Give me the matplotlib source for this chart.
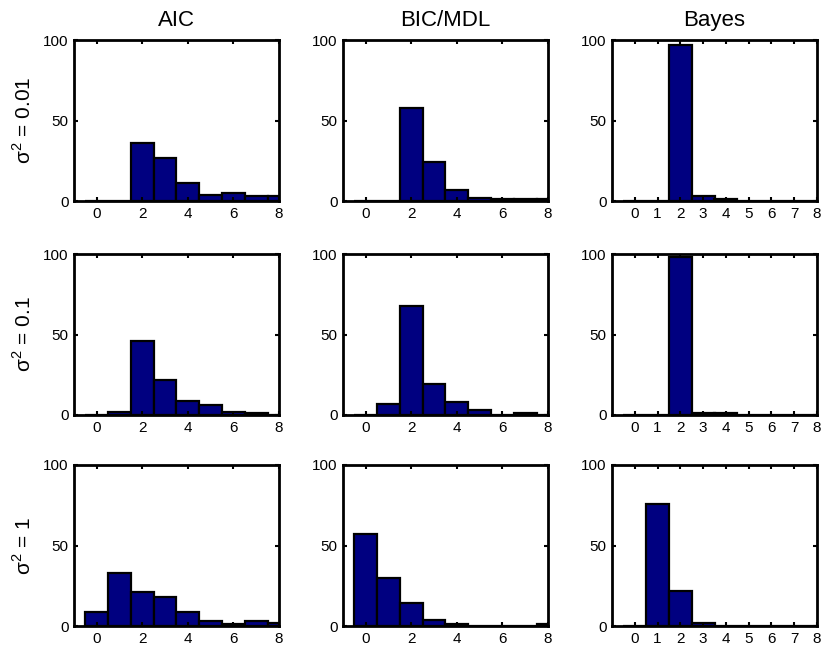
import numpy as np
import matplotlib
matplotlib.use("Agg")
import matplotlib.pyplot as plt

plt.rcParams['font.family'] = ['Liberation Sans', 'DejaVu Sans']
plt.rcParams['mathtext.fontset'] = 'custom'
plt.rcParams['mathtext.rm'] = 'Liberation Sans'

orders = [0, 1, 2, 3, 4, 5, 6, 7, 8]
methods = ["AIC", "BIC/MDL", "Bayes"]
noise_labels = [r"σ$^\mathregular{2}$ = 0.01", r"σ$^\mathregular{2}$ = 0.1",
                r"σ$^\mathregular{2}$ = 1"]

# percentage of runs choosing each model order
aic_001 = [0, 0, 36, 27, 11, 4, 5, 3, 3]
bic_001 = [0, 0, 58, 24, 7, 2, 1, 1, 1]
bay_001 = [0, 0, 97, 3, 1, 0, 0, 0, 0]

aic_01 = [0, 2, 46, 22, 9, 6, 2, 1, 0]
bic_01 = [0, 7, 68, 19, 8, 3, 0, 1, 0]
bay_01 = [0, 0, 98, 1, 1, 0, 0, 0, 0]

aic_1 = [9, 33, 21, 18, 9, 3, 1, 3, 2]
bic_1 = [57, 30, 14, 4, 1, 0, 0, 0, 1]
bay_1 = [0, 76, 22, 2, 0, 0, 0, 0, 0]

grid = [[aic_001, bic_001, bay_001],
        [aic_01, bic_01, bay_01],
        [aic_1, bic_1, bay_1]]

fig = plt.figure(figsize=(8.29, 6.54), dpi=100)
W, H = 829, 654
col_x = [74, 343, 612]
row_y = [40, 254, 465]
aw, ah = 205, 161

for r in range(3):
    for c in range(3):
        left = col_x[c] / W
        bottom = 1 - (row_y[r] + ah) / H
        ax = fig.add_axes([left, bottom, aw / W, ah / H])
        ax.bar(orders, grid[r][c], width=1.0, color="#000080",
               edgecolor="black", linewidth=1.6, clip_on=True)
        ax.set_xlim(-1, 8)
        ax.set_ylim(0, 100)
        ax.set_yticks([0, 50, 100])
        if c == 2:
            ax.set_xticks(orders)
        else:
            ax.set_xticks([0, 2, 4, 6, 8])
        ax.tick_params(direction="in", top=True, right=True, length=3,
                       width=1.5, labelsize=11, pad=4)
        for s in ax.spines.values():
            s.set_linewidth(2)
        if r == 0:
            ax.set_title(methods[c], fontsize=16, pad=10)
        if c == 0:
            ax.set_ylabel(noise_labels[r], fontsize=15, labelpad=6)

fig.savefig("out.png", dpi=100)
